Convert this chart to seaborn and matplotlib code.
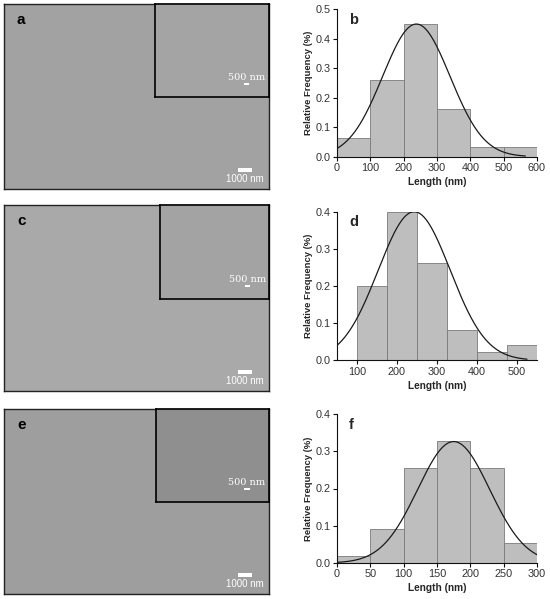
import numpy as np
import pandas as pd
import seaborn as sns
import matplotlib.pyplot as plt
from matplotlib.patches import Rectangle

# histogram data (bin edges, relative frequency)
edges_b = [0, 100, 200, 300, 400, 500, 600]
freq_b = [0.065, 0.26, 0.45, 0.162, 0.033, 0.033]
edges_d = [100, 175, 250, 325, 400, 475, 550]
freq_d = [0.20, 0.40, 0.262, 0.081, 0.021, 0.041]
edges_f = [0, 50, 100, 150, 200, 250, 300]
freq_f = [0.018, 0.092, 0.255, 0.328, 0.255, 0.055]

# gaussian fit parameters (peak, center, width) and curve range
fit_b = (0.45, 238, 101)
fit_d = (0.40, 243, 90)
fit_f = (0.326, 175, 54)
curve_range_b = (0, 565)
curve_range_d = (50, 525)
curve_range_f = (0, 300)

xlim_b, xticks_b = (0, 600), [0, 100, 200, 300, 400, 500, 600]
xlim_d, xticks_d = (50, 550), [100, 200, 300, 400, 500]
xlim_f, xticks_f = (0, 300), [0, 50, 100, 150, 200, 250, 300]
ylim_b, yticks_b = (0, 0.5), [0.0, 0.1, 0.2, 0.3, 0.4, 0.5]
ylim_d, yticks_d = (0, 0.4), [0.0, 0.1, 0.2, 0.3, 0.4]
ylim_f, yticks_f = (0, 0.4), [0.0, 0.1, 0.2, 0.3, 0.4]

# micrograph panels: letter, background grey, inset grey
img_letters = ["a", "c", "e"]
img_grey = ["#a2a2a2", "#a9a9a9", "#9e9e9e"]
inset_grey = ["#a4a4a4", "#a3a3a3", "#8f8f8f"]

sns.set_theme(style="ticks")
plt.rcParams['font.family'] = ['Liberation Sans', 'DejaVu Sans']

W, H = 550, 599
fig = plt.figure(figsize=(5.5, 5.99), dpi=100)


def rect(l, t, r, b):
    return [l / W, 1 - b / H, (r - l) / W, (b - t) / H]


def draw_hist(pos, edges, freq, fit, crange, xlim, xticks, ylim, yticks, letter):
    ax = fig.add_axes(rect(*pos))
    centers = [(edges[i] + edges[i + 1]) / 2 for i in range(len(freq))]
    df = pd.DataFrame({"x": centers, "w": freq})
    sns.histplot(data=df, x="x", weights="w", bins=edges, ax=ax,
                 color="#bebebe", edgecolor="#7a7a7a", linewidth=0.6, alpha=1)
    xs = np.linspace(crange[0], crange[1], 300)
    ys = fit[0] * np.exp(-(xs - fit[1]) ** 2 / (2 * fit[2] ** 2))
    sns.lineplot(x=xs, y=ys, ax=ax, color="#1a1a1a", linewidth=0.9)
    ax.set_xlim(*xlim)
    ax.set_ylim(*ylim)
    ax.set_xticks(xticks)
    ax.set_yticks(yticks)
    ax.set_yticklabels([f"{v:.1f}" for v in yticks])
    ax.tick_params(labelsize=7.8, length=3, width=0.8, pad=1.5,
                   colors="#111111", labelcolor="#333333")
    ax.set_xlabel("Length (nm)", fontsize=7.3, fontweight="bold", labelpad=3)
    ax.set_ylabel("Relative Frequency (%)", fontsize=6.8, fontweight="bold", labelpad=2)
    sns.despine(ax=ax)
    for s in ["left", "bottom"]:
        ax.spines[s].set_linewidth(0.8)
        ax.spines[s].set_color("#111111")
    ax.text(0.06, 0.975, letter, transform=ax.transAxes, fontsize=10.5,
            fontweight="bold", va="top", ha="left")


draw_hist((337, 9.3, 537, 156.7), edges_b, freq_b, fit_b, curve_range_b,
          xlim_b, xticks_b, ylim_b, yticks_b, "b")
draw_hist((337, 211.7, 537, 360.3), edges_d, freq_d, fit_d, curve_range_d,
          xlim_d, xticks_d, ylim_d, yticks_d, "d")
draw_hist((337, 414, 537, 563), edges_f, freq_f, fit_f, curve_range_f,
          xlim_f, xticks_f, ylim_f, yticks_f, "f")

# micrograph placeholders with inset and scale bars
img_pos = [(3.5, 3.5, 269, 189), (4, 205, 269, 391), (4, 409, 269, 594)]
inset_pos = [(155, 3.5, 269, 97), (160, 205, 269, 299), (156, 409, 269, 502)]

for i in range(3):
    ax = fig.add_axes(rect(*img_pos[i]))
    ax.set_facecolor(img_grey[i])
    ax.set_xticks([])
    ax.set_yticks([])
    for s in ax.spines.values():
        s.set_color("#222222")
        s.set_linewidth(1.0)
    ax.text(0.05, 0.89, img_letters[i], transform=ax.transAxes, fontsize=11,
            fontweight="bold", va="baseline", ha="left", color="black")
    ax.add_patch(Rectangle((0.883, 0.09), 0.054, 0.022, transform=ax.transAxes,
                           color="white", lw=0))
    ax.text(0.91, 0.052, "1000 nm", transform=ax.transAxes, fontsize=7,
            color="white", ha="center", va="center")

    axi = fig.add_axes(rect(*inset_pos[i]))
    axi.set_facecolor(inset_grey[i])
    axi.set_xticks([])
    axi.set_yticks([])
    for s in axi.spines.values():
        s.set_color("black")
        s.set_linewidth(1.2)
    axi.text(0.80, 0.21, "500 nm", transform=axi.transAxes, fontsize=7,
             color="white", ha="center", va="center", family="DejaVu Serif")
    axi.add_patch(Rectangle((0.778, 0.128), 0.05, 0.025, transform=axi.transAxes,
                            color="white", lw=0))

fig.savefig("out.png", dpi=100)
